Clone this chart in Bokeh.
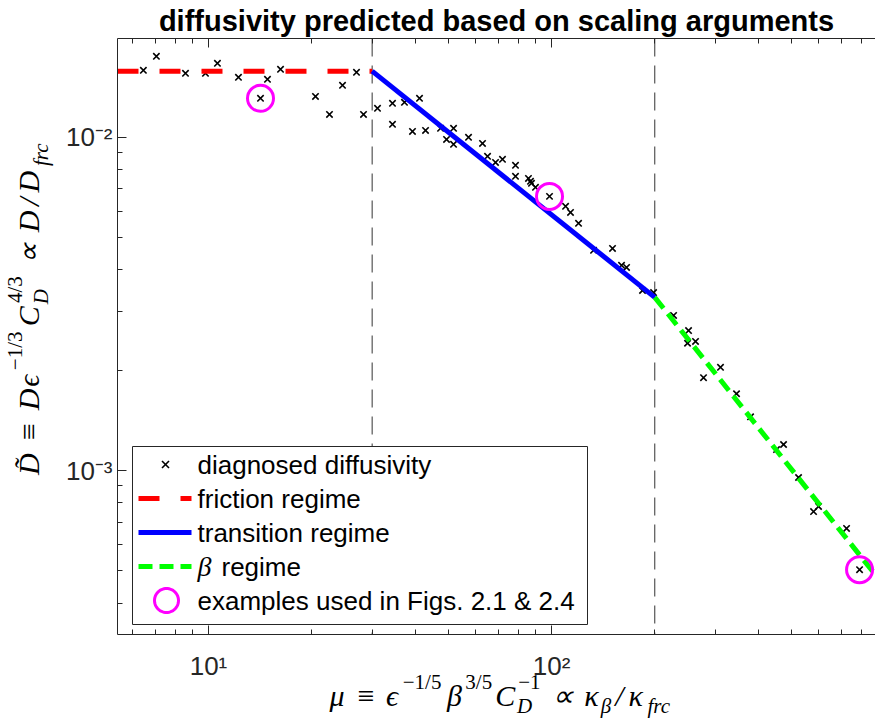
import math
from bokeh.plotting import figure
from bokeh.models import (Range1d, FixedTicker, LogAxis, CustomJSTickFormatter, Span, Label,
                          BoxAnnotation, PolyAnnotation, Arrow, AllLabels)
from bokeh.embed import file_html
from bokeh.resources import INLINE

# ---------------- data ----------------
mu_diag = [6.46, 7.05, 8.57, 9.80, 10.62, 12.23, 14.18, 14.86, 16.22, 20.51, 22.53, 24.59, 27.01, 28.31,
           31.10, 34.39, 34.39, 37.27, 41.23, 39.33, 42.93, 47.48, 49.43, 51.81, 51.81, 57.29, 62.93, 65.09,
           68.68, 71.96, 78.53, 78.53, 85.67, 86.84, 87.42, 89.80, 98.67, 109.9, 113.6, 119.9, 132.6, 150.6,
           160.0, 165.5, 184.2, 198.4,
           226.9, 250.9, 249.2, 262.9, 277.4, 310.9, 346.2, 380.4, 452.9, 474.7, 525.0, 580.6, 600.4, 724.6, 790.7]
D_diag = [0.01589, 0.01750, 0.01557, 0.01557, 0.01668, 0.01514, 0.01310, 0.01493, 0.01600, 0.01327, 0.01172, 0.01433, 0.01567, 0.01172,
          0.01222, 0.01265, 0.01094, 0.01274, 0.01310, 0.01042, 0.01049, 0.01064, 0.00986, 0.01064, 0.00953, 0.01000, 0.00959, 0.00877,
          0.00841, 0.00859, 0.00824, 0.00764, 0.00753, 0.00738, 0.00728, 0.00708, 0.00665, 0.00621, 0.00595, 0.00552, 0.00458, 0.00464,
          0.00413, 0.00407, 0.00347, 0.00342,
          0.00292, 0.00263, 0.00241, 0.00244, 0.00190, 0.00204, 0.00170, 0.00145, 0.001156, 0.001197, 0.000953, 0.000753, 0.000780, 0.000670, 0.000504]

mu_examples = [14.18, 98.67, 790.7]
D_examples = [0.01310, 0.00665, 0.000504]

X_MIN, X_MAX = 5.43, 880.0
Y_MIN, Y_MAX = 3.22e-4, 0.0198

regime_bounds = [30.0, 200.0]
friction_mu = [X_MIN, 30.0]
friction_D = [0.0158, 0.0158]
transition_mu = [30.0, 200.0]
transition_D = [0.0158, 0.00331]
beta_mu = [200.0, X_MAX]
beta_D = [0.00331, 0.000486]

x_major = [10, 100]
x_minor = [6, 7, 8, 9, 20, 30, 40, 50, 60, 70, 80, 90, 200, 300, 400, 500, 600, 700, 800]
y_major = [1e-3, 1e-2]
y_minor = [4e-4, 5e-4, 6e-4, 7e-4, 8e-4, 9e-4, 2e-3, 3e-3, 4e-3, 5e-3, 6e-3, 7e-3, 8e-3, 9e-3]

legend_labels = ["diagnosed diffusivity", "friction regime", "transition regime", "regime",
                 "examples used in Figs. 2.1 & 2.4"]
title_text = "diffusivity predicted based on scaling arguments"

# ---------------- layout ----------------
W, H = 875, 723
FL, FR, FT, FB = 117, 875, 38, 634
AX = "#262626"
SANS = "Liberation Sans"
SERIF = "Liberation Serif"


def fx(cx):
    return cx - FL


def fy(cy):
    return FB - cy


LX0, LX1 = math.log10(X_MIN), math.log10(X_MAX)
LY0, LY1 = math.log10(Y_MIN), math.log10(Y_MAX)


def x_at(cx):
    return 10 ** (LX0 + (cx - FL) / (FR - FL) * (LX1 - LX0))


def y_at(cy):
    return 10 ** (LY0 + (FB - cy) / (FB - FT) * (LY1 - LY0))


p = figure(width=W, height=H, x_axis_type="log", y_axis_type="log",
           x_range=Range1d(X_MIN, X_MAX), y_range=Range1d(Y_MIN, Y_MAX),
           output_backend="svg", toolbar_location=None,
           min_border_left=FL, min_border_right=W - FR, min_border_top=FT, min_border_bottom=H - FB)
p.outline_line_color = None
p.xgrid.visible = False
p.ygrid.visible = False
p.background_fill_color = "white"
p.border_fill_color = "white"

p.title.text = title_text
p.title.text_font = SANS
p.title.text_font_style = "bold"
p.title.text_font_size = "29px"
p.title.text_color = "black"
p.title.align = "center"
p.title.vertical_align = "top"
p.title.standoff = 0

fmt_code = """
const e = Math.round(Math.log10(tick));
const m = {"-":"\u207b","0":"\u2070","1":"\u00b9","2":"\u00b2","3":"\u00b3","4":"\u2074","5":"\u2075","6":"\u2076","7":"\u2077","8":"\u2078","9":"\u2079"};
return "10" + String(e).split("").map(c => m[c]).join("");
"""


def style_axis(ax, size="26px"):
    ax.axis_line_color = AX
    ax.major_tick_line_color = AX
    ax.minor_tick_line_color = AX
    ax.major_tick_in = 9
    ax.major_tick_out = 0
    ax.minor_tick_in = 5
    ax.minor_tick_out = 0
    ax.major_label_text_font = SANS
    ax.major_label_text_font_size = size
    ax.major_label_text_color = AX


p.xaxis[0].ticker = FixedTicker(ticks=x_major, minor_ticks=x_minor)
p.yaxis[0].ticker = FixedTicker(ticks=y_major, minor_ticks=y_minor)
p.xaxis[0].formatter = CustomJSTickFormatter(code=fmt_code)
p.yaxis[0].formatter = CustomJSTickFormatter(code=fmt_code)
style_axis(p.xaxis[0])
style_axis(p.yaxis[0])
p.xaxis[0].major_label_standoff = 16
p.yaxis[0].major_label_standoff = 5

top_axis = LogAxis(ticker=FixedTicker(ticks=x_major, minor_ticks=x_minor))
style_axis(top_axis, "1px")
top_axis.major_label_text_alpha = 0.0
top_axis.major_label_standoff = 0
p.add_layout(top_axis, "above")

# regime boundaries
for v in regime_bounds:
    p.add_layout(Span(location=v, dimension="height", line_color="#333333", line_width=1,
                      line_dash="18 9", level="underlay"))

# data
p.scatter(mu_diag, D_diag, marker="x", size=9, line_color="black", line_width=1.6)
p.line(friction_mu, friction_D, line_color="#ff0000", line_width=5, line_dash="21 21")
p.line(transition_mu, transition_D, line_color="#0000ff", line_width=5)
p.line(beta_mu, beta_D, line_color="#00ff00", line_width=5, line_dash="14 7")
p.scatter(mu_examples, D_examples, marker="circle", size=26, fill_color=None,
          line_color="#ff00ff", line_width=3)

# ---------------- legend (drawn in screen units inside the frame) ----------------
p.add_layout(BoxAnnotation(left=fx(132), right=fx(587), top=fy(446), bottom=fy(624),
                           left_units="screen", right_units="screen", top_units="screen",
                           bottom_units="screen", fill_color="white", fill_alpha=1.0,
                           line_color=AX, line_alpha=1.0, line_width=1, level="annotation"))
rows = [464, 498, 532, 566, 600]
gx0, gx1, gxc = 138, 191, 165
for dx in (1, -1):
    p.add_layout(Arrow(x_start=fx(gxc) - 3.5 * dx, y_start=fy(rows[0]) - 3.5, x_end=fx(gxc) + 3.5 * dx,
                       y_end=fy(rows[0]) + 3.5, start_units="screen", end_units="screen", end=None,
                       line_color="black", line_width=1.6))
line_styles = [("#ff0000", "21 21"), ("#0000ff", "solid"), ("#00ff00", "14 7")]
for r, (col, dash) in zip(rows[1:4], line_styles):
    p.add_layout(Arrow(x_start=fx(gx0), y_start=fy(r), x_end=fx(gx1), y_end=fy(r),
                       start_units="screen", end_units="screen", end=None,
                       line_color=col, line_width=5, line_dash=dash))
n = 60
p.add_layout(PolyAnnotation(xs=[fx(gxc + 1) + 12 * math.cos(2 * math.pi * k / n) for k in range(n)],
                            ys=[fy(rows[4]) + 12 * math.sin(2 * math.pi * k / n) for k in range(n)],
                            xs_units="screen", ys_units="screen", fill_color=None, fill_alpha=0,
                            line_color="#ff00ff", line_alpha=1.0, line_width=3))
for i, (r, t) in enumerate(zip(rows, legend_labels)):
    tx = 197
    if i == 3:
        p.add_layout(Label(x=fx(197), y=fy(r), x_units="screen", y_units="screen", text="β",
                           text_font=SERIF, text_font_style="italic", text_font_size="28px",
                           text_baseline="middle", text_color="black"))
        tx = 221
    p.add_layout(Label(x=fx(tx), y=fy(r), x_units="screen", y_units="screen", text=t,
                       text_font=SANS, text_font_size="26px", text_baseline="middle",
                       text_color="black"))

# ---------------- math axis labels, set as rows of tick labels ----------------
CW = {"μ": 603, "ϵ": 406, "β": 566, "C": 715, "D": 828, "D\u0303": 828, "κ": 576, "f": 490, "r": 451,
      "c": 433, "−": 778, "/": 500, "≡": 778, "∝": 778}


def tw(s):
    if s in CW:
        return CW[s] / 1000.0
    return sum(CW.get(ch, 500) for ch in s) / 1000.0


def layout_math(segs, size):
    """returns {row: [(center_offset, text)]}, total length"""
    sc = 0.7 * size
    rows_ = {"sup": [], "main": [], "sub": []}
    pos = 0.0
    for seg in segs:
        kind = seg[0]
        if kind == "n":
            w = tw(seg[1]) * size
            rows_["main"].append((pos + w / 2, seg[1]))
            pos += w
        elif kind == "rel":
            pos += 0.278 * size
            w = tw(seg[1]) * size
            rows_["main"].append((pos + w / 2, seg[1]))
            pos += w + 0.278 * size
        elif kind in ("sup", "sub"):
            w = tw(seg[1]) * sc
            rows_[kind].append((pos + w / 2, seg[1]))
            pos += w
        elif kind == "subsup":
            wb, wp = tw(seg[1]) * sc, tw(seg[2]) * sc
            rows_["sub"].append((pos + wb / 2, seg[1]))
            rows_["sup"].append((pos + wp / 2, seg[2]))
            pos += max(wb, wp)
    return rows_, pos


pick_code = """
let b = 0;
for (let k = 1; k < pos.length; k++) {
  if (Math.abs(Math.log(pos[k] / tick)) < Math.abs(Math.log(pos[b] / tick))) b = k;
}
return txt[b];
"""


def text_axis(side, positions, texts, size, italic, standoff):
    ax = LogAxis(ticker=FixedTicker(ticks=positions, minor_ticks=[]),
                 formatter=CustomJSTickFormatter(args=dict(pos=positions, txt=texts), code=pick_code))
    ax.axis_line_color = None
    ax.major_tick_line_color = None
    ax.minor_tick_line_color = None
    ax.major_tick_in = 0
    ax.major_tick_out = 0
    ax.minor_tick_in = 0
    ax.minor_tick_out = 0
    ax.major_label_standoff = standoff
    ax.major_label_text_font = SERIF
    ax.major_label_text_font_size = f"{size:.1f}px"
    ax.major_label_text_font_style = "italic" if italic else "normal"
    ax.major_label_text_color = "black"
    ax.major_label_policy = AllLabels()
    if side == "left":
        ax.major_label_orientation = "vertical"
    p.add_layout(ax, side)


xlabel_segs = [("n", "μ"), ("rel", "≡"), ("n", "ϵ"), ("sup", "−1/5"), ("n", "β"), ("sup", "3/5"),
               ("n", "C"), ("subsup", "D", "−1"), ("rel", "∝"), ("n", "κ"), ("sub", "β"),
               ("n", "/"), ("n", "κ"), ("sub", "frc")]
ylabel_segs = [("n", "D\u0303"), ("rel", "≡"), ("n", "D"), ("n", "ϵ"), ("sup", "−1/3"), ("n", "C"),
               ("subsup", "D", "4/3"), ("rel", "∝"), ("n", "D"), ("n", "/"), ("n", "D"), ("sub", "frc")]

LS = 30
xr, xlen = layout_math(xlabel_segs, LS)
x_start = 500 - xlen / 2
x_rows = {k: ([x_at(x_start + c) for c, _ in v], [t for _, t in v]) for k, v in xr.items()}
text_axis("below", *x_rows["sup"], 0.7 * LS, False, -14)
text_axis("below", *x_rows["main"], LS, True, -18)
text_axis("below", *x_rows["sub"], 0.7 * LS, True, -21)

yr, ylen = layout_math(ylabel_segs, LS)
y_start = 308 + ylen / 2
y_rows = {k: ([y_at(y_start - c) for c, _ in v], [t for _, t in v]) for k, v in yr.items()}
text_axis("left", *y_rows["sub"], 0.7 * LS, True, 9)
text_axis("left", *y_rows["main"], LS, True, -19)
text_axis("left", *y_rows["sup"], 0.7 * LS, False, -18)

open("out.html", "w").write(file_html(p, INLINE))
